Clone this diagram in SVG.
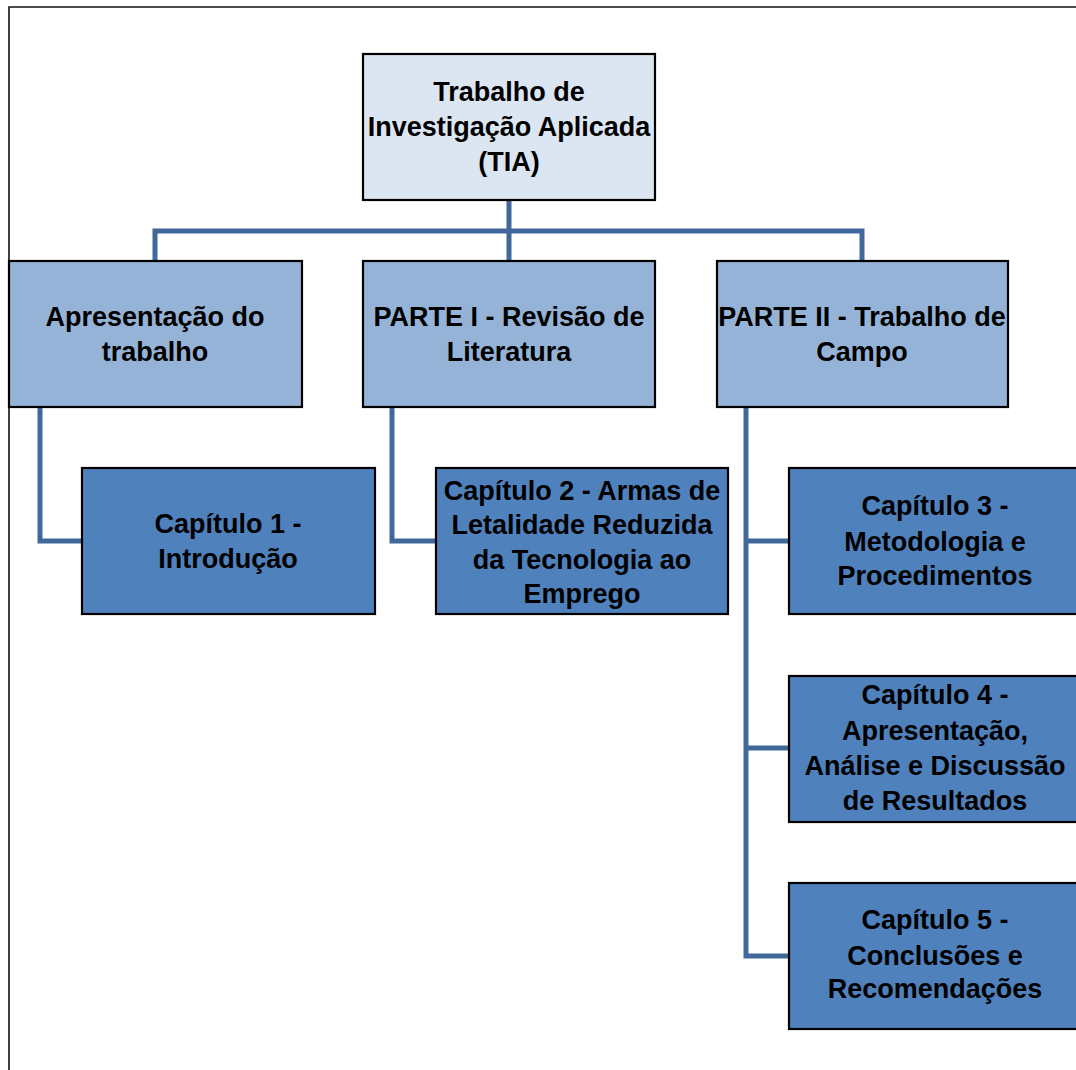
<svg xmlns="http://www.w3.org/2000/svg" width="1076" height="1070" viewBox="0 0 1076 1070">
<style>
.t{font-family:"Liberation Sans",Arial,sans-serif;font-weight:bold;font-size:27px;fill:#000;text-anchor:middle}
.b{stroke:#000;stroke-width:2.2}
.l0{fill:#dce6f2}
.l1{fill:#95b3d7}
.l2{fill:#4f81bd}
.c{fill:none;stroke:#41689b;stroke-width:5}
</style>
<rect width="1076" height="1070" fill="#fff"/>
<path d="M9,1070 V7 H1076" fill="none" stroke="#111" stroke-width="1.6"/>
<g id="connectors">
<path class="c" d="M509,200 V260 M155,260 V231 H862 V260"/>
<path class="c" d="M40,407 V541 H82"/>
<path class="c" d="M392,407 V541 H436"/>
<path class="c" d="M746,407 V956 H789 M746,541 H789 M746,748 H789"/>
</g>
<g id="tia">
<rect class="b l0" x="363" y="54" width="292" height="146"/>
<text class="t" x="509" y="101">Trabalho de</text>
<text class="t" x="509" y="136">Investigação Aplicada</text>
<text class="t" x="509" y="171">(TIA)</text>
</g>
<g id="apresentacao">
<rect class="b l1" x="9" y="261" width="293" height="146"/>
<text class="t" x="155" y="326">Apresentação do</text>
<text class="t" x="155" y="361">trabalho</text>
</g>
<g id="parte1">
<rect class="b l1" x="363" y="261" width="292" height="146"/>
<text class="t" x="509" y="326">PARTE I - Revisão de</text>
<text class="t" x="509" y="361">Literatura</text>
</g>
<g id="parte2">
<rect class="b l1" x="717" y="261" width="291" height="146"/>
<text class="t" x="862" y="326">PARTE II - Trabalho de</text>
<text class="t" x="862" y="361">Campo</text>
</g>
<g id="cap1">
<rect class="b l2" x="82" y="468" width="293" height="146"/>
<text class="t" x="228" y="533">Capítulo 1 -</text>
<text class="t" x="228" y="568">Introdução</text>
</g>
<g id="cap2">
<rect class="b l2" x="436" y="468" width="292" height="146"/>
<text class="t" x="582" y="500">Capítulo 2 - Armas de</text>
<text class="t" x="582" y="534">Letalidade Reduzida</text>
<text class="t" x="582" y="569">da Tecnologia ao</text>
<text class="t" x="582" y="603">Emprego</text>
</g>
<g id="cap3">
<rect class="b l2" x="789" y="468" width="300" height="146"/>
<text class="t" x="935" y="515">Capítulo 3 -</text>
<text class="t" x="935" y="551">Metodologia e</text>
<text class="t" x="935" y="585">Procedimentos</text>
</g>
<g id="cap4">
<rect class="b l2" x="789" y="676" width="300" height="146"/>
<text class="t" x="935" y="704">Capítulo 4 -</text>
<text class="t" x="935" y="740">Apresentação,</text>
<text class="t" x="935" y="775">Análise e Discussão</text>
<text class="t" x="935" y="810">de Resultados</text>
</g>
<g id="cap5">
<rect class="b l2" x="789" y="883" width="300" height="146"/>
<text class="t" x="935" y="929">Capítulo 5 -</text>
<text class="t" x="935" y="965">Conclusões e</text>
<text class="t" x="935" y="998">Recomendações</text>
</g>
</svg>
